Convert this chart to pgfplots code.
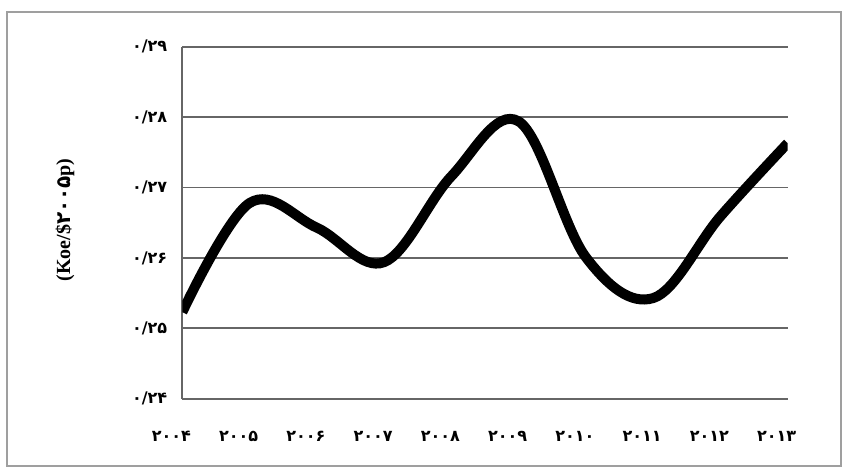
\documentclass[border=0pt]{standalone}
\usepackage{fontspec}
\setmainfont{Liberation Serif}
\newfontfamily\fa[Script=Arabic]{DejaVu Sans}
\usepackage{pgfplots}
\pgfplotsset{compat=1.18}

\begin{document}
\begin{tikzpicture}
% picture is 847 x 476 px, 1 px = 0.5pt
\useasboundingbox (0pt,0pt) rectangle (423.5pt,238pt);
\fill[white] (0pt,0pt) rectangle (423.5pt,238pt);
\draw[gray!75, line width=1.2pt] (3.5pt,5pt) rectangle (420.5pt,232pt);

\begin{axis}[
    at={(91.15pt,38.6pt)}, anchor=south west,
    scale only axis,
    width=302.7pt, height=176.05pt,
    xmin=2004, xmax=2013,
    ymin=0.24, ymax=0.29,
    axis lines*=left,
    axis line style={gray!80!black, line width=0.9pt},
    ymajorgrids,
    grid style={gray!80!black, line width=0.9pt},
    major tick length=0pt,
    xtick={2004,...,2013},
    xticklabels={۲۰۰۴,۲۰۰۵,۲۰۰۶,۲۰۰۷,۲۰۰۸,۲۰۰۹,۲۰۱۰,۲۰۱۱,۲۰۱۲,۲۰۱۳},
    ytick={0.24,0.25,0.26,0.27,0.28,0.29},
    yticklabels={۰/۲۴,۰/۲۵,۰/۲۶,۰/۲۷,۰/۲۸,۰/۲۹},
    xticklabel style={font=\fontsize{8}{9}\selectfont\fa\bfseries, anchor=center, yshift=-19pt, xshift=-5.5pt},
    yticklabel style={font=\fontsize{8}{9}\selectfont\fa\bfseries, anchor=east, xshift=-4pt},
]
\addplot[black, line width=5pt, smooth, tension=0.6] coordinates {
    (2004, 0.2523)
    (2005, 0.2678)
    (2006, 0.2643)
    (2007, 0.2594)
    (2008, 0.2716)
    (2009, 0.2794)
    (2010, 0.2601)
    (2011, 0.2543)
    (2012, 0.2659)
    (2013, 0.2763)
};
\end{axis}

\node[rotate=90, font=\bfseries\fontsize{10}{12}\selectfont] at (32.5pt,128pt) {(Koe/\${\fa ۲۰۰۵}p)};
\end{tikzpicture}
\end{document}
